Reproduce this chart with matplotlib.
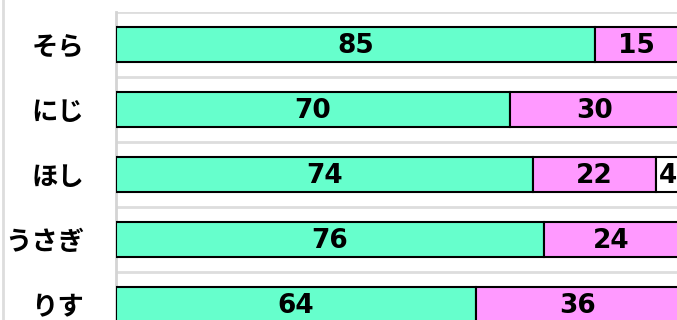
import matplotlib
matplotlib.use("Agg")
import matplotlib.pyplot as plt
from matplotlib.lines import Line2D
import numpy as np

plt.rcParams['font.family'] = ['Noto Sans CJK JP', 'DejaVu Sans']

categories = ["そら", "にじ", "ほし", "うさぎ", "りす"]
series_a = [85, 70, 74, 76, 64]
series_b = [15, 30, 22, 24, 36]
series_c = [0, 0, 4, 0, 0]
colors = ["#66FFCC", "#FF99FF", "#FFFFFF"]

fig = plt.figure(figsize=(6.77, 3.2), dpi=100)
ax = fig.add_axes([116/677, -17/320, 563/677, 325/320])

y = np.arange(len(categories))
left = np.zeros(len(categories))
for vals, col in zip([series_a, series_b, series_c], colors):
    vals = np.array(vals, dtype=float)
    bars = ax.barh(y, vals, left=left, height=0.55, color=col,
                   edgecolor="black", linewidth=1.5, zorder=3)
    for b, v in zip(bars, vals):
        if v > 0:
            ax.text(b.get_x() + b.get_width()/2, b.get_y() + b.get_height()/2 + 0.02,
                    f"{int(v)}", ha="center", va="center", fontsize=19,
                    fontweight="bold", family="DejaVu Sans", color="black", zorder=4)
    left += vals

ax.set_xlim(0, 100)
ax.set_ylim(len(categories) - 0.5, -0.5)
ax.set_yticks(y)
ax.set_yticklabels(categories, fontsize=19, fontweight="bold")
ax.set_yticks(np.arange(len(categories) + 1) - 0.5, minor=True)
ax.tick_params(axis="y", which="both", length=0, pad=23)
ax.set_xticks([])
ax.grid(axis="y", which="minor", color="#dddddd", linewidth=2, zorder=0)
ax.grid(axis="y", which="major", visible=False)
for s in ["top", "right", "bottom"]:
    ax.spines[s].set_visible(False)
ax.spines["left"].set_color("#d4d4d4")
ax.spines["left"].set_linewidth(2)

fig.add_artist(Line2D([2.5/677, 2.5/677], [0, 1], transform=fig.transFigure,
                      color="#dddddd", linewidth=2))

fig.savefig("out.png", dpi=100)
